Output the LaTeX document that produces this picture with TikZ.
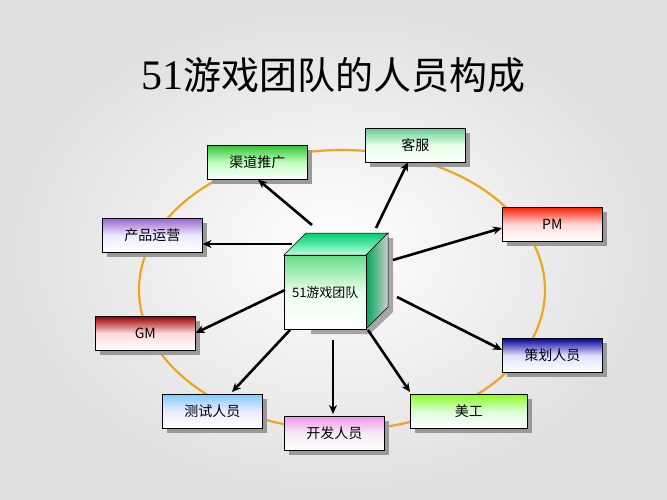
\documentclass[tikz,border=0pt]{standalone}
\usepackage{fontspec}
\newfontfamily\cjk{Noto Sans CJK SC}
\newfontfamily\serifdig{Liberation Serif}
\usetikzlibrary{arrows.meta,shadows}
\definecolor{orng}{RGB}{240,165,30}
\tikzset{
 role/.style 2 args={draw=black,line width=0.6pt,minimum width=100pt,minimum height=34pt,anchor=north west,
  top color=#1,bottom color=white,middle color=#2,font=\cjk\fontsize{14}{14}\selectfont,
  drop shadow={shadow xshift=5pt,shadow yshift=-5pt,fill=gray!80,opacity=1}},
 arr/.style={-{Stealth[length=9pt,width=8pt]},line width=2.6pt}
}
\begin{document}
\begin{tikzpicture}[x=1pt,y=-1pt]
\useasboundingbox (0,0) rectangle (667,500);
\shade[inner color=white,outer color=gray!25] (0,0) rectangle (667,500);
\node[font=\cjk\fontsize{38}{38}\selectfont] (title) at (333,75) {{\serifdig\fontsize{42}{42}\selectfont 51}游戏团队的人员构成};
\draw[orng,line width=2.2pt] (342,290) ellipse (203 and 140);
% cube
\fill[gray!70] (311,238) -- (393,238) -- (393,312) -- (370,334) -- (311,334) -- cycle;
\shade[top color=green!60!cyan!60!teal,bottom color=green!40!cyan!30,draw=black,line width=0.5pt] (284,255) -- (306,233) -- (388,233) -- (366,255) -- cycle;
\shade[left color=teal!70!green,right color=gray!40,draw=black,line width=0.5pt] (366,255) -- (388,233) -- (388,307) -- (366,329) -- cycle;
\node[draw=black,line width=0.5pt,anchor=north west,minimum width=82pt,minimum height=74pt,inner sep=0pt,
  top color=teal!45!green!60,bottom color=white,middle color=green!8,font=\cjk\fontsize{13}{13}\selectfont] (c) at (284,255) {51游戏团队};
% boxes
\node[role={green!70!black!80}{green!25}] (qd) at (207,145) {渠道推广};
\node[role={green!35!teal!60}{green!10}] (kf) at (365,128) {客服};
\node[role={red!75!orange}{red!15}] (pm) at (502,207) {PM};
\node[role={blue!35!violet!60}{blue!8}] (cp) at (102,218) {产品运营};
\node[role={red!60!black}{red!15}] (gm) at (95,316) {GM};
\node[role={blue!60!black}{blue!12}] (ch) at (502,338) {策划人员};
\node[role={blue!40!cyan!50}{blue!8}] (cs) at (162,394) {测试人员};
\node[role={violet!40!magenta!40}{violet!8}] (kfr) at (284,416) {开发人员};
\node[role={yellow!50!green!90}{green!15},minimum width=117pt] (mg) at (410,394) {美工};
% arrows
\coordinate (s1) at (312,225); \draw[arr] (s1) -- (qd.south -| 258,0);
\coordinate (s2) at (376,228); \draw[arr] (s2) -- (408,162);
\coordinate (s3) at (393,260); \draw[arr] (s3) -- (pm.west |- 0,228);
\coordinate (s4) at (292,244); \draw[arr] (s4) -- (cp.east |- 0,244);
\coordinate (s5) at (285,290); \draw[arr] (s5) -- (gm.east |- 0,333);
\coordinate (s6) at (397,297); \draw[arr] (s6) -- (ch.west |- 0,350);
\coordinate (s7) at (368,330); \draw[arr] (s7) -- (410,392);
\coordinate (s8) at (333,340); \draw[arr] (s8) -- (333,414);
\coordinate (s9) at (290,330); \draw[arr] (s9) -- (232,392);
\end{tikzpicture}
\end{document}
